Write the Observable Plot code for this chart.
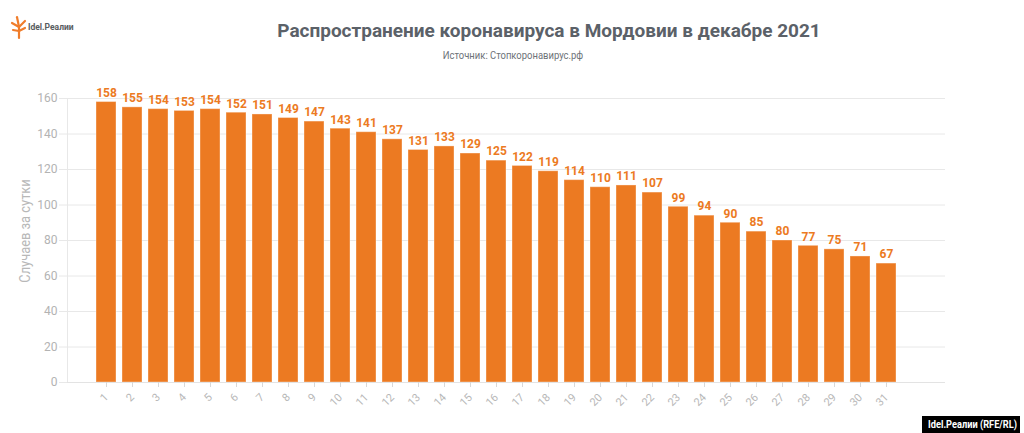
<!DOCTYPE html>
<html>
<head>
<meta charset="utf-8">
<script src="https://cdn.jsdelivr.net/npm/d3@7"></script>
<script src="https://cdn.jsdelivr.net/npm/@observablehq/plot@0.6"></script>
<style>
  html, body { margin: 0; padding: 0; background: #fff; }
  body { width: 1024px; height: 433px; position: relative; overflow: hidden; font-family: Roboto, sans-serif; }
  #title { position: absolute; top: 19px; left: 0; width: 1098px; text-align: center; font-size: 19px; font-weight: bold; color: #5b6168; }
  #subtitle { position: absolute; top: 49px; left: 0; width: 1026px; text-align: center; font-size: 10.5px; color: #6d7278; }
  #subtitle span { display: inline-block; transform: scaleX(0.9); }
  #ylabel { position: absolute; left: 25px; top: 231px; width: 0; height: 0; }
  #ylabel span { position: absolute; left: 0; top: 0; white-space: nowrap; font-size: 14px; color: #b8b8b8; transform: translate(-50%, -50%) rotate(-90deg) scaleX(0.92); }
  #logo { position: absolute; left: 9px; top: 14px; }
  #logotext { position: absolute; left: 28px; top: 22px; font-size: 8.5px; font-weight: bold; color: #585c60; }
  #credit { position: absolute; left: 922px; top: 416px; width: 98px; height: 17px; background: #000; color: #fff; font-size: 10.5px; font-weight: bold; line-height: 17px; text-align: center; font-family: Roboto, sans-serif; }
  #credit span { display: inline-block; transform: scaleX(0.88); white-space: nowrap; }
  #chart { position: absolute; left: 0; top: 0; }
</style>
</head>
<body>
<div id="chart"></div>
<svg id="logo" width="20" height="26" viewBox="0 0 20 26">
  <g stroke="#f07d2b" stroke-width="2.2" stroke-linecap="round" fill="none">
    <line x1="10" y1="24" x2="10" y2="13"/>
    <line x1="10" y1="13" x2="3" y2="9"/>
    <line x1="10" y1="13" x2="8" y2="3"/>
    <line x1="10" y1="13" x2="16" y2="7"/>
    <line x1="10" y1="17" x2="4" y2="16"/>
    <line x1="10" y1="17" x2="16" y2="14"/>
  </g>
</svg>
<div id="logotext">Idel.Реалии</div>
<div id="title">Распространение коронавируса в Мордовии в декабре 2021</div>
<div id="subtitle"><span>Источник: Стопкоронавирус.рф</span></div>
<div id="ylabel"><span>Случаев за сутки</span></div>
<div id="credit"><span>Idel.Реалии (RFE/RL)</span></div>
<script>
const days = d3.range(1, 32);
const cases = [158,155,154,153,154,152,151,149,147,143,141,137,131,133,129,125,122,119,114,110,111,107,99,94,90,85,80,77,75,71,67];
const yTicks = [0,20,40,60,80,100,120,140,160];

const data = days.map((d, i) => ({day: String(d), value: cases[i]}));
const orange = "#ec7a22";

const chart = Plot.plot({
  width: 1024,
  height: 433,
  marginLeft: 67,
  marginRight: 79,
  marginTop: 98,
  marginBottom: 51,
  style: {fontFamily: "Roboto, sans-serif", background: "transparent"},
  x: {domain: days.map(String), range: [93, 900], padding: 0.23, paddingOuter: 0.115, label: null},
  y: {domain: [0, 160], label: null},
  marks: [
    Plot.gridY(yTicks, {stroke: "#e8e8e8", strokeOpacity: 1}),
    Plot.frame({anchor: "left", stroke: "#e8e8e8"}),
    Plot.barY(data, {x: "day", y: "value", fill: orange, stroke: "#ffffff", strokeOpacity: 0.35, strokeWidth: 1}),
    Plot.ruleY([0], {stroke: "#e3e3e3", strokeWidth: 1}),
    Plot.axisY(yTicks, {tickSize: 8, tickPadding: 2, stroke: "#e8e8e8", fill: "#b3b3b3", fontSize: 12, label: null}),
    Plot.axisX(days.map(String), {tickSize: 5, stroke: "#d8d8d8", tickRotate: -45, tickPadding: 8, fill: "#b8b8b8", fontSize: 11, label: null}),
    Plot.text(data, {x: "day", y: "value", text: d => String(d.value), dy: -9, fill: orange, fontWeight: "bold", fontSize: 12})
  ]
});
document.getElementById("chart").appendChild(chart);
</script>
</body>
</html>
